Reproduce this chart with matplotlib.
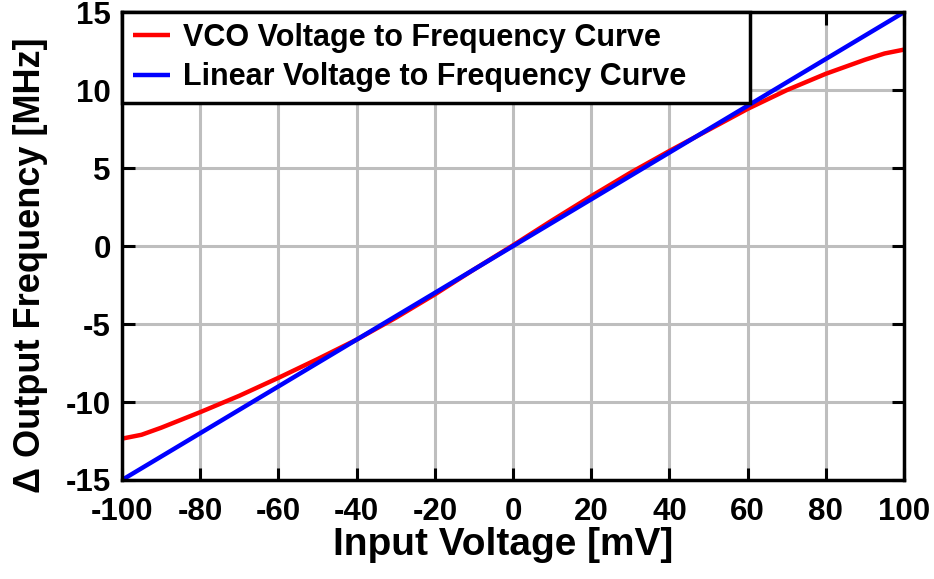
import matplotlib
matplotlib.use("Agg")
import matplotlib.pyplot as plt

# Data
input_mv = [-100, -95, -90, -80, -70, -60, -50, -40, -30, -20, -10,
            0, 10, 20, 30, 40, 50, 60, 70, 80, 90, 95, 100]
vco_mhz = [-12.35, -12.1, -11.65, -10.65, -9.6, -8.45, -7.25, -6.0, -4.6, -3.1, -1.5,
           0.05, 1.65, 3.2, 4.7, 6.1, 7.45, 8.8, 10.0, 11.05, 11.95, 12.35, 12.6]
linear_x = [-100, 100]
linear_mhz = [-15, 15]

x_ticks = [-100, -80, -60, -40, -20, 0, 20, 40, 60, 80, 100]
y_ticks = [-15, -10, -5, 0, 5, 10, 15]

plt.rcParams['font.family'] = ['Liberation Sans', 'DejaVu Sans']
plt.rcParams['font.weight'] = 'bold'

fig = plt.figure(figsize=(9.34, 5.79), dpi=100)
ax = fig.add_axes([0.1306, 0.171, 0.968 - 0.1306, 0.979 - 0.171])

ax.plot(input_mv, vco_mhz, color='#ff0000', lw=3.2, label='VCO Voltage to Frequency Curve',
        solid_capstyle='butt')
ax.plot(linear_x, linear_mhz, color='#0000ff', lw=3.2, label='Linear Voltage to Frequency Curve',
        solid_capstyle='butt')

ax.set_xlim(-100, 100)
ax.set_ylim(-15, 15)
ax.set_xticks(x_ticks)
ax.set_yticks(y_ticks)
ax.set_xticklabels([str(v) for v in x_ticks], fontsize=22.5, fontweight='bold')
ax.set_yticklabels([str(v) for v in y_ticks], fontsize=22.5, fontweight='bold')

ax.grid(True, color='#bebebe', lw=2.2)
ax.set_axisbelow(True)
ax.tick_params(direction='in', length=9, width=2.2, top=True, right=True)
ax.tick_params(axis='x', pad=12)
ax.tick_params(axis='y', pad=8)
for sp in ax.spines.values():
    sp.set_linewidth(2.5)

ax.set_xlabel('Input Voltage [mV]', fontsize=28, fontweight='bold', labelpad=1)
ax.xaxis.set_label_coords(0.487, -0.1)
ax.xaxis.label.set_va('top')
ax.set_ylabel('\u0394 Output Frequency [MHz]', fontsize=26, fontweight='bold')
ax.yaxis.set_label_coords(-0.095, 0.46)

# legend box stretches to about 80% of the axes width
leg = ax.legend(loc='upper left', bbox_to_anchor=(0, 0.81, 0.803, 0.19), mode='expand',
                fontsize=22, frameon=True, fancybox=False,
                borderaxespad=0, handlelength=1.2, handletextpad=0.45,
                borderpad=0.36, labelspacing=0.3)
leg.get_frame().set_edgecolor('black')
leg.get_frame().set_linewidth(2.5)
leg.get_frame().set_alpha(1)
for t in leg.get_texts():
    t.set_fontweight('bold')

fig.savefig('out.png', dpi=100)
